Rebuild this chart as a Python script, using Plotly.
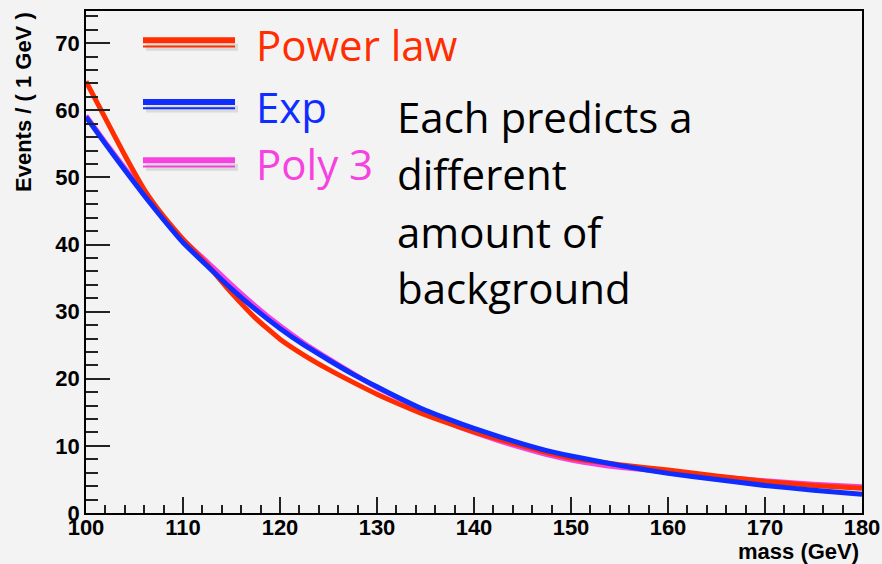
import plotly.graph_objects as go

# ---- data ----
mass = [100, 102, 104, 106, 108, 110, 112.5, 115, 117.5, 120, 122.5, 125, 127.5,
        130, 132.5, 135, 137.5, 140, 142.5, 145, 147.5, 150, 155, 160, 165, 170, 175, 180]
power_law = [64.3, 58.8, 53.3, 48.2, 44.2, 40.8, 37.0, 32.8, 29.0, 25.9, 23.5, 21.4, 19.5,
             17.7, 16.1, 14.6, 13.3, 12.1, 11.0, 10.0, 9.0, 8.2, 7.2, 6.4, 5.5, 4.7, 4.1, 3.7]
expo = [59.0, 55.0, 51.1, 47.3, 43.7, 40.3, 36.8, 33.4, 30.3, 27.5, 25.0, 22.8, 20.7,
        18.8, 17.0, 15.3, 13.9, 12.6, 11.4, 10.3, 9.3, 8.5, 7.1, 5.9, 5.0, 4.1, 3.4, 2.8]
poly3 = [59.2, 55.2, 51.4, 47.6, 44.1, 40.7, 37.4, 34.0, 30.8, 27.9, 25.3, 23.0, 20.8,
         18.7, 16.9, 15.0, 13.4, 12.0, 10.8, 9.7, 8.7, 7.9, 6.8, 6.1, 5.4, 4.8, 4.3, 3.9]

series_names = ["Power law", "Exp", "Poly 3"]
colors = {"Power law": "#ff2d00", "Exp": "#0f2dff", "Poly 3": "#f542e0"}
x_ticks = [100, 110, 120, 130, 140, 150, 160, 170, 180]
y_ticks = [0, 10, 20, 30, 40, 50, 60, 70]
note_lines = ["Each predicts a", "different", "amount of", "background"]

# ---- geometry (pixels) ----
W, H = 882, 564
L, R, T, B = 86, 20, 11, 51
PW, PH = W - L - R, H - T - B


def px(xp):
    return (xp - L) / PW


def py(yp):
    return (H - B - yp) / PH


fig = go.Figure()
for name, vals in [("Poly 3", poly3), ("Power law", power_law), ("Exp", expo)]:
    fig.add_trace(go.Scatter(x=mass, y=vals, mode="lines", name=name,
                             line=dict(color=colors[name], width=5, shape="spline", smoothing=0.4),
                             showlegend=False))

tickfont = dict(family="Liberation Sans", size=22, color="black", weight="bold")

fig.update_layout(
    width=W, height=H,
    margin=dict(l=L, r=R, t=T, b=B, autoexpand=False),
    paper_bgcolor="#f3f3f3", plot_bgcolor="#f3f3f3",
    xaxis=dict(range=[100, 180], tickvals=x_ticks, ticks="inside", ticklen=16, tickwidth=1.5,
               tickcolor="#222", showline=True, linecolor="black", linewidth=1.5, mirror=True,
               showgrid=False, zeroline=False, tickfont=tickfont, automargin=False,
               ticklabelstandoff=-6,
               minor=dict(dtick=2, ticks="inside", ticklen=8, tickwidth=1.5, tickcolor="#222", showgrid=False)),
    yaxis=dict(range=[0, 74.8], tickvals=y_ticks, ticks="inside", ticklen=24, tickwidth=1.5,
               tickcolor="#222", showline=True, linecolor="black", linewidth=1.5, mirror=True,
               showgrid=False, zeroline=False, tickfont=tickfont, automargin=False,
               minor=dict(dtick=2, ticks="inside", ticklen=12, tickwidth=1.5, tickcolor="#222", showgrid=False)),
)

# axis titles (ROOT style)
fig.add_annotation(text="Events / ( 1 GeV )", xref="paper", yref="paper",
                   x=px(23), y=py(10), xanchor="center", yanchor="top", textangle=-90,
                   showarrow=False, font=dict(family="Liberation Sans", size=22, color="black", weight="bold"))
fig.add_annotation(text="mass (GeV)", xref="paper", yref="paper",
                   x=px(861), y=py(551), xanchor="right", yanchor="middle",
                   showarrow=False, font=dict(family="Liberation Sans", size=22, color="black", weight="bold"))

# legend: sample lines with shadow + labels
legend_y = {"Power law": 40.3, "Exp": 102.0, "Poly 3": 160.3}
legend_text_y = {"Power law": 44.7, "Exp": 106.7, "Poly 3": 163.7}
for name in series_names:
    yl = legend_y[name]
    fig.add_shape(type="line", xref="paper", yref="paper", x0=px(146), x1=px(238),
                  y0=py(yl + 7), y1=py(yl + 7), line=dict(color="rgba(0,0,0,0.10)", width=7))
    fig.add_shape(type="line", xref="paper", yref="paper", x0=px(143), x1=px(235),
                  y0=py(yl), y1=py(yl), line=dict(color=colors[name], width=6))
    fig.add_shape(type="line", xref="paper", yref="paper", x0=px(143), x1=px(235),
                  y0=py(yl + 6.2), y1=py(yl + 6.2), line=dict(color=colors[name], width=2))
    fig.add_annotation(text=name, xref="paper", yref="paper", x=px(254), y=py(legend_text_y[name]),
                       xanchor="left", yanchor="middle", showarrow=False,
                       font=dict(family="Open Sans", size=42, color=colors[name]))

note_y = [116.7, 173.7, 231.7, 287.7]
for line, yy in zip(note_lines, note_y):
    fig.add_annotation(text=line, xref="paper", yref="paper", x=px(395), y=py(yy),
                       xanchor="left", yanchor="middle", showarrow=False,
                       font=dict(family="Open Sans", size=42, color="black"))

fig.write_html("out.html")
